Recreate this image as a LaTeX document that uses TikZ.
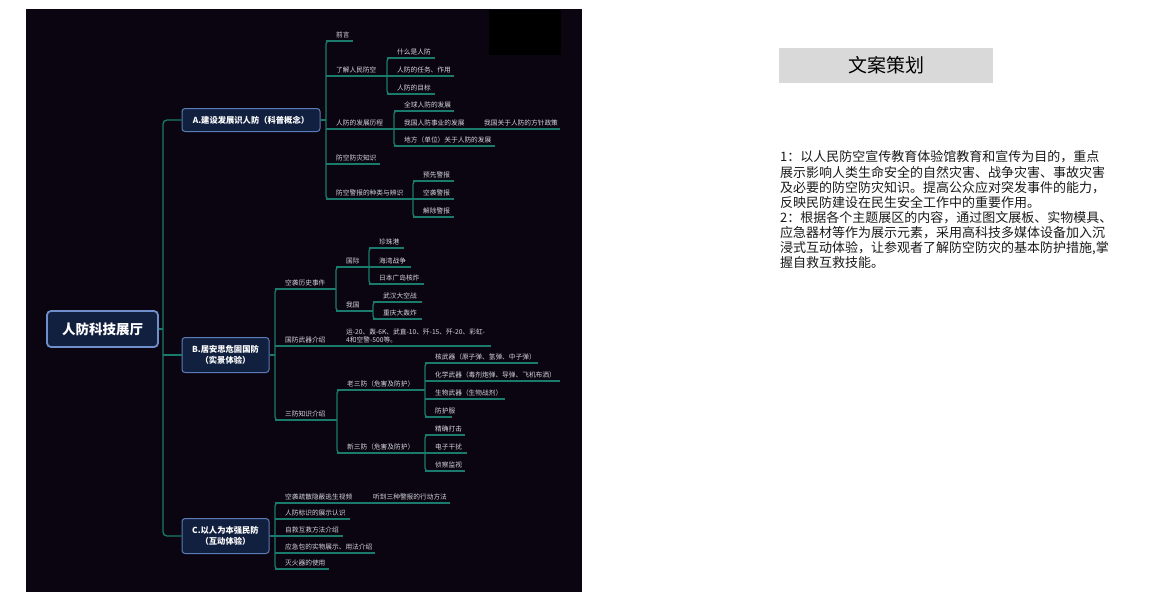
\documentclass[tikz,border=0pt]{standalone}
\usepackage{fontspec}
\setmainfont{Noto Sans CJK SC}
\definecolor{bgdark}{RGB}{10,5,16}
\definecolor{teal1}{RGB}{26,122,108}
\definecolor{boxfill}{RGB}{18,32,64}
\definecolor{boxborder}{RGB}{92,124,184}
\definecolor{rootborder}{RGB}{110,143,204}
\definecolor{leaftext}{RGB}{214,214,222}
\definecolor{titlegray}{RGB}{217,217,217}
\definecolor{bodytext}{RGB}{26,26,26}
\tikzset{
  br/.style={draw=teal1, line width=1.3pt},
  leaf/.style={text=leaftext, font=\fontsize{6.7}{8.2}\selectfont, anchor=west, inner sep=0pt},
  mainbox/.style={draw=boxborder, fill=boxfill, line width=1pt, rounded corners=3pt, text=white,
    font=\fontsize{8.3}{10.5}\selectfont\bfseries, align=center, inner sep=0pt},
  bodyline/.style={anchor=west, inner sep=0pt, text=bodytext, font=\fontsize{13}{15}\selectfont}
}
% leaf: name, vertical x, underline y, underline end x, text
\newcommand{\mmleaf}[5]{%
  \node[leaf] (#1) at ({#2+10},{#3-6}) {#5};
  \coordinate (#1-s) at (#2,#3);
  \coordinate (#1-e) at (#4,#3);
  \draw[br] (#1-s) -- (#1-e);
}
% vertical bar: x, top y, bottom y
\newcommand{\mmvert}[3]{%
  \draw[br, rounded corners=3pt] ({#1+6},#2) -- (#1,#2) -- (#1,#3) -- ({#1+6},#3);
}
\begin{document}
\begin{tikzpicture}[x=1pt,y=-1pt]
\useasboundingbox (0,0) rectangle (1149,600);
\fill[white] (0,0) rectangle (1149,600);
\fill[bgdark] (26,9) rectangle (582,592);
\fill[black] (489,10) rectangle (561,55);

% ---------- main boxes ----------
\node[draw=rootborder, fill=boxfill, line width=1.8pt, rounded corners=4pt, text=white,
  font=\fontsize{13.5}{16}\selectfont\bfseries, minimum width=111pt, minimum height=36pt, inner sep=0pt]
  (root) at (102.5,329) {人防科技展厅};
\node[mainbox, minimum width=138pt, minimum height=23pt] (A) at (251,120) {A.建设发展识人防（科普概念）};
\node[mainbox, minimum width=87pt, minimum height=35pt] (B) at (225.5,355) {B.居安思危固国防\\（实景体验）};
\node[mainbox, minimum width=87pt, minimum height=35pt] (C) at (225.5,536) {C.以人为本强民防\\（互动体验）};

% trunk
\coordinate (trA) at (163,120);
\coordinate (trB) at (163,355);
\coordinate (trC) at (163,536);
\coordinate (trR) at (163,329);
\draw[br, rounded corners=4pt] (A.west) -- (trA) -- (trC) -- (C.west);
\draw[br] (trB) -- (B.west);
\draw[br] (root.east) -- (trR);

% ---------- A ----------
\coordinate (vA) at (326,120);
\draw[br] (A.east) -- (vA);
\mmvert{326}{41}{199}
\mmleaf{a1}{326}{41}{353}{前言}
\mmleaf{a2}{326}{76}{387}{了解人民防空}
\mmleaf{a3}{326}{129}{394}{人防的发展历程}
\mmleaf{a4}{326}{164}{380}{防空防灾知识}
\mmleaf{a5}{326}{199}{413}{防空警报的种类与辨识}

\mmvert{387}{58}{94}
\mmleaf{a21}{387}{58}{435}{什么是人防}
\mmleaf{a22}{387}{76}{454}{人防的任务、作用}
\mmleaf{a23}{387}{94}{435}{人防的目标}

\mmvert{394}{111}{146}
\mmleaf{a31}{394}{111}{454}{全球人防的发展}
\mmleaf{a32}{394}{129}{560}{我国人防事业的发展}
\node[leaf] (a321) at (484,123) {我国关于人防的方针政策};
\mmleaf{a33}{394}{146}{495}{地方（单位）关于人防的发展}

\mmvert{413}{181}{217}
\mmleaf{a51}{413}{181}{454}{预先警报}
\mmleaf{a52}{413}{199}{454}{空袭警报}
\mmleaf{a53}{413}{217}{454}{解除警报}

% ---------- B ----------
\coordinate (vB) at (275,355);
\draw[br] (B.east) -- (vB);
\mmvert{275}{289}{420}
\mmleaf{b1}{275}{289}{336}{空袭历史事件}
\mmleaf{b2}{275}{346}{491}{国防武器介绍}
\mmleaf{b3}{275}{420}{337}{三防知识介绍}

\mmvert{336}{267}{311}
\mmleaf{b11}{336}{267}{369}{国际}
\mmleaf{b12}{336}{311}{373}{我国}

\mmvert{369}{248}{284}
\mmleaf{b111}{369}{248}{404}{珍珠港}
\mmleaf{b112}{369}{267}{411}{海湾战争}
\mmleaf{b113}{369}{284}{424}{日本广岛核炸}

\mmvert{373}{302}{319}
\mmleaf{b121}{373}{302}{422}{武汉大空战}
\mmleaf{b122}{373}{319}{422}{重庆大轰炸}

\node[leaf, anchor=south west, align=left] (b21) at (346,343.5) {运-20、轰-6K、武直-10、歼-15、歼-20、彩虹-\\4和空警-500等。};

\mmvert{337}{390}{453}
\mmleaf{b31}{337}{390}{425}{老三防（危害及防护）}
\mmleaf{b32}{337}{453}{425}{新三防（危害及防护）}

\mmvert{425}{363}{417}
\mmleaf{b311}{425}{363}{538}{核武器（原子弹、氢弹、中子弹）}
\mmleaf{b312}{425}{381}{560}{化学武器（毒剂炮弹、导弹、飞机布洒）}
\mmleaf{b313}{425}{399}{505}{生物武器（生物战剂）}
\mmleaf{b314}{425}{417}{452}{防护服}

\mmvert{425}{435}{471}
\mmleaf{b321}{425}{435}{465}{精确打击}
\mmleaf{b322}{425}{453}{467}{电子干扰}
\mmleaf{b323}{425}{471}{465}{侦察监视}

% ---------- C ----------
\coordinate (vC) at (275,536);
\draw[br] (C.east) -- (vC);
\mmvert{275}{503}{569}
\mmleaf{c1}{275}{503}{450}{空袭疏散隐蔽逃生视频}
\node[leaf] (c11) at (373,497) {听到三种警报的行动方法};
\mmleaf{c2}{275}{519}{350}{人防标识的展示认识}
\mmleaf{c3}{275}{536}{343}{自救互救方法介绍}
\mmleaf{c4}{275}{553}{375}{应急包的实物展示、用法介绍}
\mmleaf{c5}{275}{569}{329}{灭火器的使用}

% ---------- right side ----------
\node[fill=titlegray, minimum width=214pt, minimum height=35pt, inner sep=0pt, text={RGB:red,51;green,51;blue,51},
  font=\fontsize{19}{22}\selectfont] (title) at (886,65.5) {文案策划};

\node[bodyline] (p1) at (780,156.7) {1：以人民防空宣传教育体验馆教育和宣传为目的，重点};
\node[bodyline] (p2) at (780,172.0) {展示影响人类生命安全的自然灾害、战争灾害、事故灾害};
\node[bodyline] (p3) at (780,187.2) {及必要的防空防灾知识。提高公众应对突发事件的能力，};
\node[bodyline] (p4) at (780,202.4) {反映民防建设在民生安全工作中的重要作用。};
\node[bodyline] (p5) at (780,217.5) {2：根据各个主题展区的内容，通过图文展板、实物模具、};
\node[bodyline] (p6) at (780,232.7) {应急器材等作为展示元素，采用高科技多媒体设备加入沉};
\node[bodyline] (p7) at (780,247.8) {浸式互动体验，让参观者了解防空防灾的基本防护措施,掌};
\node[bodyline] (p8) at (780,263.0) {握自救互救技能。};
\end{tikzpicture}
\end{document}
